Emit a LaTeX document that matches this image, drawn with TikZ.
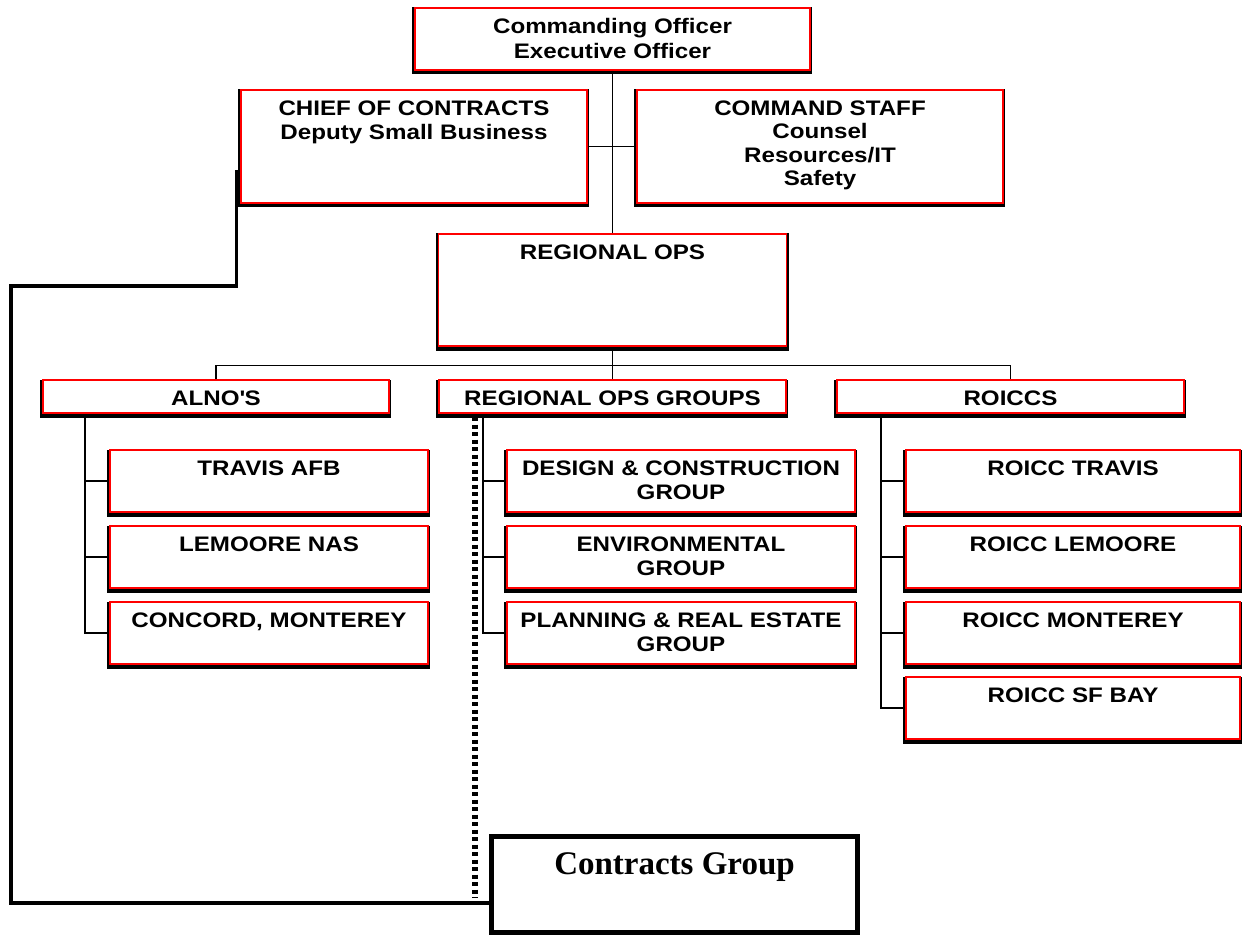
\documentclass[tikz,border=0pt]{standalone}
\usepackage{fontspec}
\setmainfont{Liberation Sans}
\newfontfamily\unitfont[FakeStretch=1.15]{Liberation Sans}
\newfontfamily\serifbold{Liberation Serif}
\usepackage{tikz}

\begin{document}
\begin{tikzpicture}[x=1pt,y=-1pt]
        \tikzstyle{unit} = [rectangle, draw=red, line width=1.5pt, fill=white, inner sep=0pt, preaction={draw=black, line width=5pt, transform canvas={xshift=-0.5pt, yshift=-2pt}}]
        \tikzstyle{unittext} = [anchor=north, inner sep=0pt, yshift=-11pt, align=center, font=\unitfont\fontsize{21}{24.5}\selectfont\bfseries]
        \tikzstyle{link} = [-, line width=1.2pt]
        \tikzstyle{heavy} = [-, line width=3.5pt]
        \tikzstyle{dots} = [-, line width=5.5pt, dash pattern=on 4pt off 3.5pt]
        \useasboundingbox (0,0) rectangle (1254,936);
        % command level
        \node[unit, minimum width=395pt, minimum height=62pt] (co) at (612.5,39) {};
        \node[unit, minimum width=346pt, minimum height=113pt] (chief) at (414,146.5) {};
        \node[unit, minimum width=366pt, minimum height=113pt] (staff) at (820,146.5) {};
        \node[unit, minimum width=348pt, minimum height=112pt] (ops) at (612.5,290) {};
        \node[unittext] (cotext) at (co.north) {Commanding Officer\\Executive Officer};
        \node[unittext] (chieftext) at (chief.north) {CHIEF OF CONTRACTS\\Deputy Small Business};
        \node[unittext, font=\unitfont\fontsize{21}{23.5}\selectfont\bfseries] (stafftext) at (staff.north) {COMMAND STAFF\\Counsel\\Resources/IT\\Safety};
        \node[unittext] (opstext) at (ops.north) {REGIONAL OPS};
        % groups
        \node[unit, minimum width=346pt, minimum height=33pt] (alno) at (216,396.5) {};
        \node[unit, minimum width=347pt, minimum height=33pt] (rog) at (612.5,396.5) {};
        \node[unit, minimum width=347pt, minimum height=33pt] (roiccs) at (1010.5,396.5) {};
        \node[unittext] (alnotext) at (alno.north) {ALNO\textquotesingle S};
        \node[unittext] (rogtext) at (rog.north) {REGIONAL OPS GROUPS};
        \node[unittext] (roiccstext) at (roiccs.north) {ROICCS};
        % alno's
        \node[unit, minimum width=318pt, minimum height=62pt] (travis) at (269,481) {};
        \node[unit, minimum width=318pt, minimum height=62pt] (lemoore) at (269,557) {};
        \node[unit, minimum width=318pt, minimum height=62pt] (concord) at (269,633) {};
        \node[unittext] (travistext) at (travis.north) {TRAVIS AFB};
        \node[unittext] (lemooretext) at (lemoore.north) {LEMOORE NAS};
        \node[unittext] (concordtext) at (concord.north) {CONCORD, MONTEREY};
        % regional ops groups
        \node[unit, minimum width=348pt, minimum height=62pt] (design) at (681,481) {};
        \node[unit, minimum width=348pt, minimum height=62pt] (enviro) at (681,557) {};
        \node[unit, minimum width=348pt, minimum height=62pt] (plan) at (681,633) {};
        \node[unittext] (designtext) at (design.north) {DESIGN \& CONSTRUCTION\\GROUP};
        \node[unittext] (envirotext) at (enviro.north) {ENVIRONMENTAL\\GROUP};
        \node[unittext] (plantext) at (plan.north) {PLANNING \& REAL ESTATE\\GROUP};
        % roiccs
        \node[unit, minimum width=334pt, minimum height=62pt] (rtravis) at (1073,481) {};
        \node[unit, minimum width=334pt, minimum height=62pt] (rlemoore) at (1073,557) {};
        \node[unit, minimum width=334pt, minimum height=62pt] (rmonterey) at (1073,633) {};
        \node[unit, minimum width=334pt, minimum height=62pt] (rsfbay) at (1073,708) {};
        \node[unittext] (rtravistext) at (rtravis.north) {ROICC TRAVIS};
        \node[unittext] (rlemooretext) at (rlemoore.north) {ROICC LEMOORE};
        \node[unittext] (rmontereytext) at (rmonterey.north) {ROICC MONTEREY};
        \node[unittext] (rsfbaytext) at (rsfbay.north) {ROICC SF BAY};
        % contracts group
        \node[draw, line width=5pt, inner sep=0pt, minimum width=366pt, minimum height=96pt] (contracts) at (674.5,884.5) {};
        \node[anchor=north, inner sep=0pt, font=\serifbold\fontsize{33}{38}\selectfont\bfseries] (contractstext) at ([yshift=-18pt]contracts.north) {Contracts Group};
        % connectors
        \coordinate (alnotrunk) at (85,414);
        \coordinate (rogtrunk) at (483,414);
        \coordinate (roiccstrunk) at (881,414);
        \coordinate (dottop) at (475,417);
        \coordinate (dotend) at (475,898);
        \draw[link] (co) -- (ops);
        \draw[link] (chief) -- (staff);
        \draw[link] (ops.south) -- (rog.north);
        \draw[link] (alno.north) -- ++(0,-14) -| (roiccs.north);
        \foreach \k in {travis,lemoore,concord} \draw[link] (alnotrunk) |- (\k.west);
        \foreach \k in {design,enviro,plan} \draw[link] (rogtrunk) |- (\k.west);
        \foreach \k in {rtravis,rlemoore,rmonterey,rsfbay} \draw[link] (roiccstrunk) |- (\k.west);
        \draw[heavy] ([xshift=-4pt,yshift=-23.5pt]chief.west) |- (11,286) -- (11,903) -- ([yshift=-18.5pt]contracts.west);
        \draw[dots] (dottop) -- (dotend);
    \end{tikzpicture}
\end{document}
